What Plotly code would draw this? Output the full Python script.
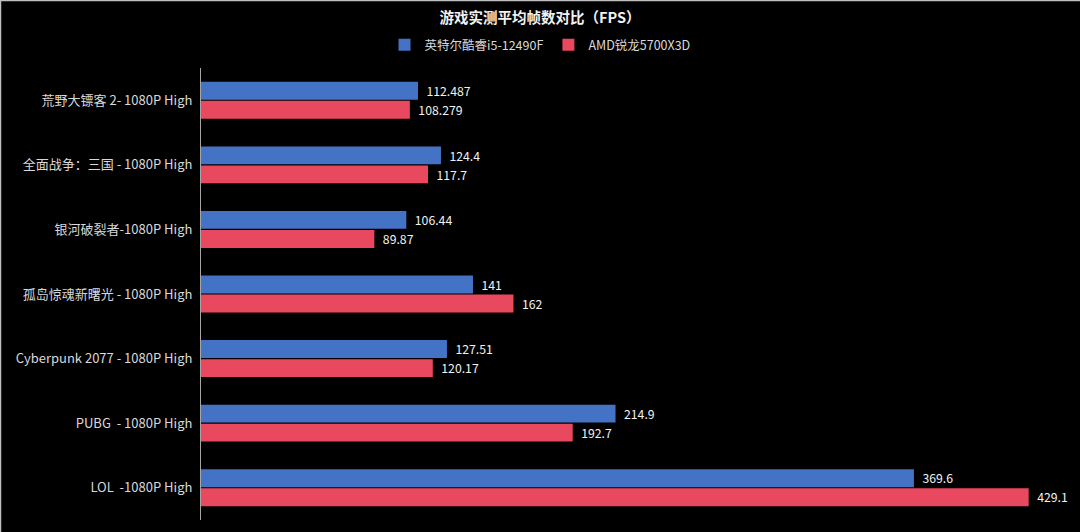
import plotly.graph_objects as go

categories = [
    "荒野大镖客 2- 1080P High",
    "全面战争：三国 - 1080P High",
    "银河破裂者-1080P High",
    "孤岛惊魂新曙光 - 1080P High",
    "Cyberpunk 2077 - 1080P High",
    "PUBG  - 1080P High",
    "LOL  -1080P High",
]
intel_name = "英特尔酷睿i5-12490F"
amd_name = "AMD锐龙5700X3D"
intel_values = [112.487, 124.4, 106.44, 141, 127.51, 214.9, 369.6]
amd_values = [108.279, 117.7, 89.87, 162, 120.17, 192.7, 429.1]

FONT = "Noto Sans CJK SC, Microsoft YaHei, sans-serif"

W, H = 1080, 532
ML, MR, MT, MB = 201, 0, 68, 12
PW, PH = W - ML - MR, H - MT - MB

fig = go.Figure()
fig.add_trace(go.Bar(
    y=categories, x=intel_values, name=intel_name, orientation="h",
    marker=dict(color="#4472C4", line=dict(width=0)),
    text=[str(v) for v in intel_values], texttemplate="  %{text}", textposition="outside",
    textfont=dict(color="#f2f2f2", size=13, family=FONT), cliponaxis=False,
))
fig.add_trace(go.Bar(
    y=categories, x=amd_values, name=amd_name, orientation="h",
    marker=dict(color="#E8495F", line=dict(width=0)),
    text=[str(v) for v in amd_values], texttemplate="  %{text}", textposition="outside",
    textfont=dict(color="#f2f2f2", size=13, family=FONT), cliponaxis=False,
))

# thin light border at the top and left of the image
fig.add_shape(type="line", xref="paper", yref="paper",
              x0=-ML / PW, x1=1, y0=1 + (MT - 0.5) / PH, y1=1 + (MT - 0.5) / PH,
              line=dict(color="#bfbfbf", width=1.5))
fig.add_shape(type="line", xref="paper", yref="paper",
              x0=-(ML - 0.5) / PW, x1=-(ML - 0.5) / PW, y0=-MB / PH, y1=1 + MT / PH,
              line=dict(color="#bfbfbf", width=1.5))

fig.update_layout(
    width=W, height=H,
    paper_bgcolor="#000000", plot_bgcolor="#000000",
    margin=dict(l=ML, r=MR, t=MT, b=MB),
    barmode="group", bargap=0.41, bargroupgap=0.06,
    font=dict(family=FONT, color="#d9d9d9", size=13),
    title=dict(text="<b>游戏实测平均帧数对比（FPS）</b>", x=0.5, xref="container",
               xanchor="center", y=1 - 18 / H, yanchor="middle",
               font=dict(size=14.5, color="#f2f2f2", family=FONT)),
    legend=dict(orientation="h", x=0.5, xref="container", xanchor="center",
                y=1 - 45 / H, yref="container", yanchor="middle",
                font=dict(size=12.5, color="#d9d9d9", family=FONT),
                itemwidth=30, tracegroupgap=0, bgcolor="rgba(0,0,0,0)"),
    xaxis=dict(range=[0, 455.7], visible=False, showgrid=False, zeroline=False),
    yaxis=dict(autorange="reversed", showline=True, linecolor="#a6a6a6", linewidth=1,
               showgrid=False, ticks="", ticklabelstandoff=5,
               tickfont=dict(size=13, color="#d9d9d9", family=FONT)),
    showlegend=True,
)

fig.write_html("out.html")
